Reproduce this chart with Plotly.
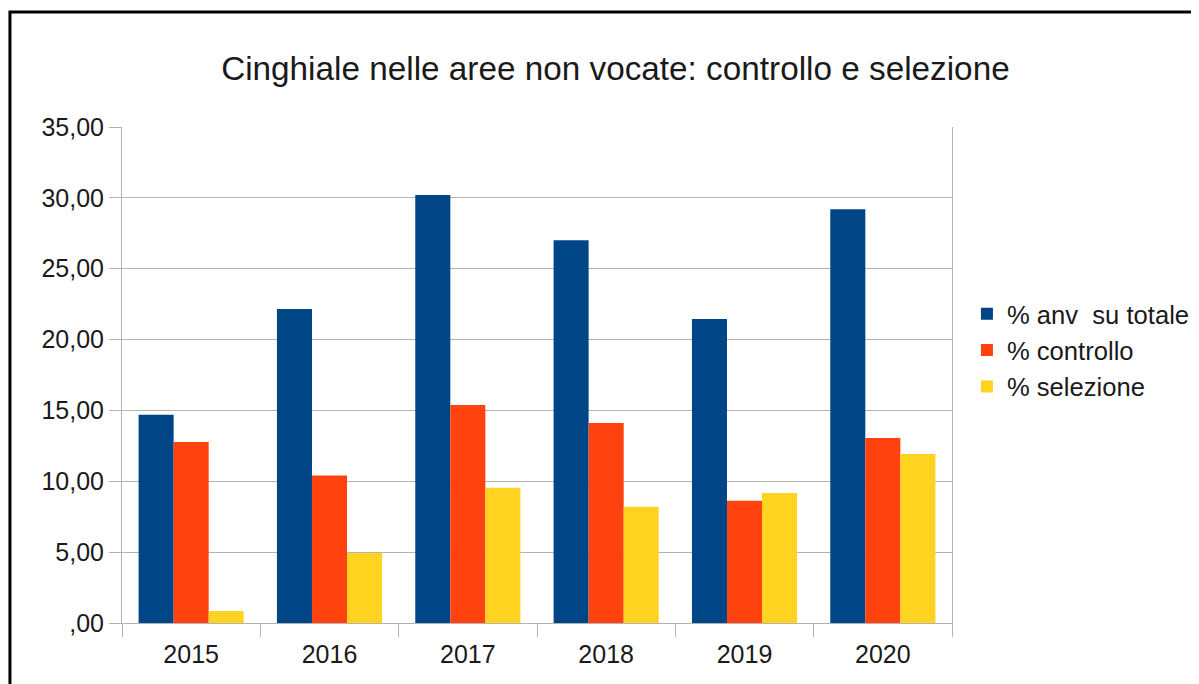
import plotly.graph_objects as go

# data
years = ["2015", "2016", "2017", "2018", "2019", "2020"]
anv_su_totale = [14.70, 22.15, 30.20, 27.00, 21.45, 29.20]
controllo = [12.77, 10.40, 15.38, 14.11, 8.62, 13.05]
selezione = [0.85, 4.94, 9.55, 8.20, 9.17, 11.93]
y_ticks = [0, 5, 10, 15, 20, 25, 30, 35]
y_tick_labels = [",00", "5,00", "10,00", "15,00", "20,00", "25,00", "30,00", "35,00"]

series = [
    ("% anv\u00a0 su totale", anv_su_totale, "#004586"),
    ("% controllo", controllo, "#ff420e"),
    ("% selezione", selezione, "#ffd320"),
]

fig = go.Figure()
for name, vals, col in series:
    fig.add_trace(go.Bar(x=years, y=vals, name=name, marker_color=col,
                         marker_line_width=0, legendgroup=name))

font = "Liberation Sans, Arial, sans-serif"
grid = "#b3b3b3"

# page body has an 8px margin, so the figure is laid out from (8, 8)
fig.update_layout(
    width=1191, height=676,
    margin=dict(l=114, r=247, t=119, b=61, autoexpand=False),
    paper_bgcolor="white", plot_bgcolor="white",
    font=dict(family=font, size=25, color="#1a1a1a"),
    title=dict(text="Cinghiale nelle aree non vocate: controllo e selezione",
               x=0.51, xanchor="center", y=0.911, yanchor="middle",
               font=dict(size=33.3)),
    barmode="group", bargap=0.24, bargroupgap=0,
    legend=dict(x=1.018, xanchor="left", y=0.55, yanchor="middle",
                tracegroupgap=0, font=dict(size=25.6)),
    showlegend=True,
)
fig.update_xaxes(type="category", showline=True, linecolor=grid, linewidth=1,
                 ticks="outside", tickson="boundaries", ticklen=13,
                 tickcolor=grid, showgrid=False, ticklabelstandoff=9)
fig.update_yaxes(range=[0, 35], tickvals=y_ticks, ticktext=y_tick_labels,
                 showline=True, linecolor=grid, linewidth=1, mirror=True,
                 ticks="outside", ticklen=12, tickcolor=grid,
                 showgrid=True, gridcolor=grid, gridwidth=1, zeroline=False)

# black frame around the chart (cut off at right and bottom)
fig.add_shape(type="rect", xref="paper", yref="paper",
              x0=-0.135, x1=1.6, y0=-0.5, y1=1.232,
              line=dict(color="black", width=3), layer="above")

fig.write_html("out.html")
